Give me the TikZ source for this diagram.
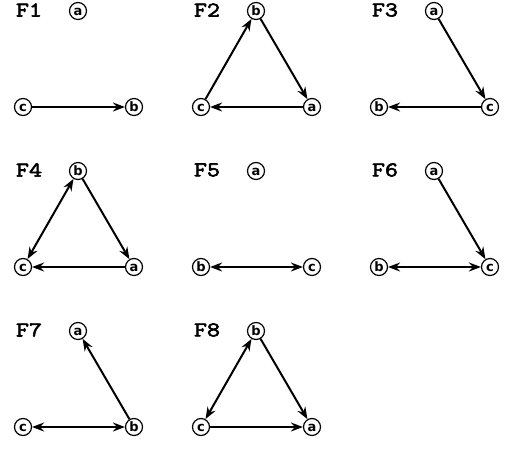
\documentclass[tikz,border=0pt]{standalone}
\usepackage{fontspec}
\newfontfamily\panelfont{Latin Modern Mono}[FakeBold=3, FakeStretch=1.2]
\newfontfamily\vertexfont{DejaVu Sans}
\usetikzlibrary{arrows.meta}

\tikzset{
  vertex/.style={circle, draw, line width=1.2pt, inner sep=0pt, minimum size=17pt,
    text height=9pt, text depth=0pt, font=\vertexfont\bfseries\fontsize{13}{13}\selectfont},
  panel/.style={font=\panelfont\fontsize{21}{21}\selectfont},
  tip/.tip={Stealth[length=12pt, width=9pt, inset=4pt]},
  edge/.style={line width=2pt, -tip},
  twoway/.style={line width=2pt, tip-tip}
}

\begin{document}
\begin{tikzpicture}[x=1pt, y=-1pt]
  \useasboundingbox (0,0) rectangle (507,448);

  % F1
  \node[panel] (f1) at (29,10) {F1};
  \node[vertex] (a1) at (78,11) {a};
  \node[vertex] (c1) at (23,107) {c};
  \node[vertex] (b1) at (134,107) {b};
  \draw[edge] (c1) -- (b1);

  % F2
  \begin{scope}[shift={(178,0)}]
    \node[panel] (f2) at (29,10) {F2};
    \node[vertex] (b2) at (78,11) {b};
    \node[vertex] (c2) at (23,107) {c};
    \node[vertex] (a2) at (134,107) {a};
    \draw[edge] (c2) -- (b2);
    \draw[edge] (b2) -- (a2);
    \draw[edge] (a2) -- (c2);
  \end{scope}

  % F3
  \begin{scope}[shift={(356,0)}]
    \node[panel] (f3) at (29,10) {F3};
    \node[vertex] (a3) at (78,11) {a};
    \node[vertex] (b3) at (23,107) {b};
    \node[vertex] (c3) at (134,107) {c};
    \draw[edge] (a3) -- (c3);
    \draw[edge] (c3) -- (b3);
  \end{scope}

  % F4
  \begin{scope}[shift={(0,160)}]
    \node[panel] (f4) at (29,10) {F4};
    \node[vertex] (b4) at (78,11) {b};
    \node[vertex] (c4) at (23,107) {c};
    \node[vertex] (a4) at (134,107) {a};
    \draw[twoway] (b4) -- (c4);
    \draw[edge] (b4) -- (a4);
    \draw[edge] (a4) -- (c4);
  \end{scope}

  % F5
  \begin{scope}[shift={(178,160)}]
    \node[panel] (f5) at (29,10) {F5};
    \node[vertex] (a5) at (78,11) {a};
    \node[vertex] (b5) at (23,107) {b};
    \node[vertex] (c5) at (134,107) {c};
    \draw[twoway] (b5) -- (c5);
  \end{scope}

  % F6
  \begin{scope}[shift={(356,160)}]
    \node[panel] (f6) at (29,10) {F6};
    \node[vertex] (a6) at (78,11) {a};
    \node[vertex] (b6) at (23,107) {b};
    \node[vertex] (c6) at (134,107) {c};
    \draw[edge] (a6) -- (c6);
    \draw[twoway] (b6) -- (c6);
  \end{scope}

  % F7
  \begin{scope}[shift={(0,320)}]
    \node[panel] (f7) at (29,10) {F7};
    \node[vertex] (a7) at (78,11) {a};
    \node[vertex] (c7) at (23,107) {c};
    \node[vertex] (b7) at (134,107) {b};
    \draw[edge] (b7) -- (a7);
    \draw[twoway] (c7) -- (b7);
  \end{scope}

  % F8
  \begin{scope}[shift={(178,320)}]
    \node[panel] (f8) at (29,10) {F8};
    \node[vertex] (b8) at (78,11) {b};
    \node[vertex] (c8) at (23,107) {c};
    \node[vertex] (a8) at (134,107) {a};
    \draw[twoway] (b8) -- (c8);
    \draw[edge] (b8) -- (a8);
    \draw[edge] (c8) -- (a8);
  \end{scope}
\end{tikzpicture}
\end{document}
